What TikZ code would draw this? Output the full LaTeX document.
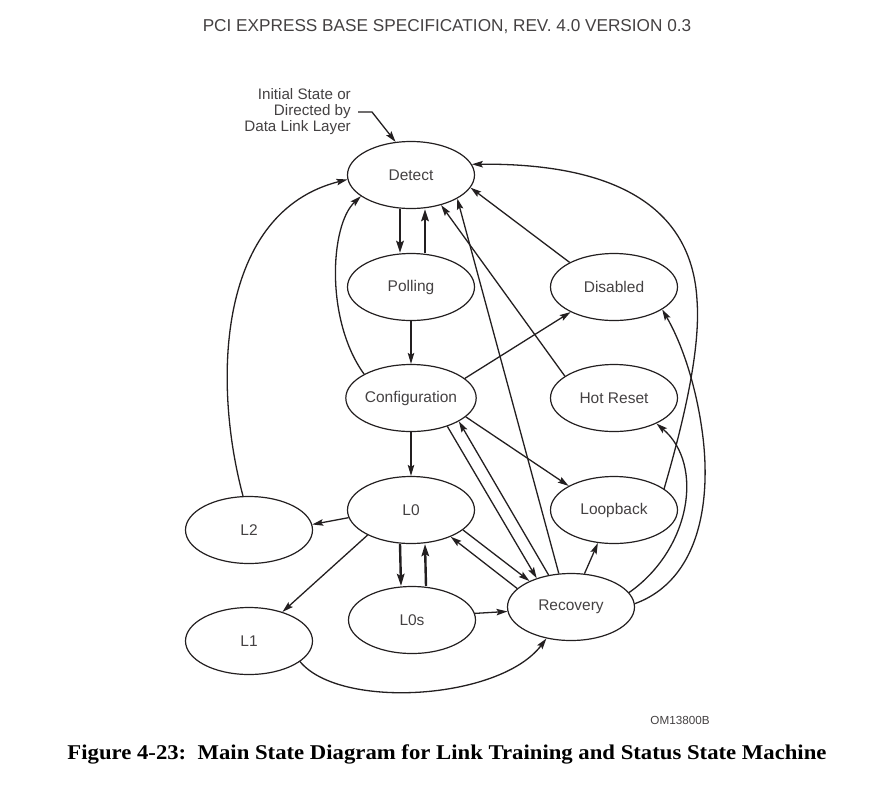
\documentclass[tikz,border=0pt]{standalone}
\usepackage{fontspec}
\setmainfont{Liberation Sans}
\newfontfamily\capfont{Liberation Serif}
\usetikzlibrary{shapes.geometric,arrows.meta}
\definecolor{ink}{HTML}{231F20}
\begin{document}
\begin{tikzpicture}[x=1pt,y=-1pt,
  state/.style={ellipse,draw=ink,line width=1.2pt,minimum width=127pt,minimum height=67pt,inner sep=0pt,
    font=\fontsize{15.5}{17}\selectfont,text=ink!85},
  arr/.style={draw=ink,line width=1.3pt,-{Stealth[length=11pt,width=6.5pt,inset=2pt]}},
  tarr/.style={draw=ink,line width=2.4pt,-{Stealth[length=12pt,width=7.5pt,inset=2pt]}},
  plain/.style={draw=ink,line width=1.3pt}]
\path[use as bounding box] (0,0) rectangle (873,788);

\node[font=\fontsize{17.2}{19}\selectfont,text=ink!85] (title) at (447,27) {PCI EXPRESS BASE SPECIFICATION, REV. 4.0 VERSION 0.3};

\node[state] (D) at (411,175) {Detect};
\node[state] (P) at (411,287) {Polling};
\node[state] (C) at (411,398) {Configuration};
\node[state] (Di) at (614,287) {Disabled};
\node[state] (H) at (614,398) {Hot Reset};
\node[state] (Lb) at (614,510) {Loopback};
\node[state] (L0) at (411,510) {L0};
\node[state] (L2) at (249,530) {L2};
\node[state] (L1) at (249,641) {L1};
\node[state] (L0s) at (412,620) {L0s};
\node[state] (R) at (571,607) {Recovery};

\node[anchor=east,align=right,font=\fontsize{15.2}{16}\selectfont,text=ink!85,inner sep=0pt] (init) at (351,112) {Initial State or\\Directed by\\Data Link Layer};
\coordinate (ia) at (358,112);
\coordinate (ib) at (372,112);
\draw[arr] (ia) -- (ib) -- (D.115);

% Detect <-> Polling
\draw[tarr] ([xshift=-11pt]D.south) -- ([xshift=-11pt]P.north);
\draw[tarr] ([xshift=14pt]P.north) -- ([xshift=14pt]D.south);
\draw[arr] (P.south) -- (C.north);
\draw[arr] (C.153) .. controls (325,320) and (330,225) .. (D.203);
\draw[arr] (L2.100) .. controls (212,380) and (218,212) .. (D.184);
\draw[arr] (C.20) -- (Di.210);
\draw[arr] (Di.151) -- (D.-12);
\draw[arr] (H.156) -- (D.-45);
\draw[arr] (R.110) -- (D.-27);
\draw[arr] (Lb.23) .. controls (690,400) and (700,340) .. (697,300) .. controls (692,210) and (620,163) .. (D.10);
\draw[arr] (R.3) .. controls (700,580) and (712,500) .. (702,430) .. controls (695,380) and (680,340) .. (Di.-25);
\draw[arr] (R.14) .. controls (690,550) and (705,465) .. (H.-31);
\draw[arr] (C.-19) -- (Lb.152);
\draw[arr] (C.-38) -- (R.140);
\draw[arr] (R.125) -- (C.-26);
\draw[arr] (L0.-21) -- (R.148);
\draw[arr] (R.161) -- (L0.-34);
\draw[arr] (C.south) -- (L0.north);
\draw[arr] (L0.187) -- (L2.5);
\draw[arr] (L0.210) -- (L1.41);
\draw[tarr] ([xshift=-11pt]L0.south) -- ([xshift=-11pt]L0s.north);
\draw[tarr] ([xshift=14pt]L0s.north) -- ([xshift=14pt]L0.south);
\draw[arr] (L0s.6) -- (R.184);
\draw[arr] (L1.-22) .. controls (340,710) and (500,700) .. (R.232);
\draw[arr] (R.68) -- (Lb.244);

\node[font=\fontsize{11.7}{13}\selectfont,text=ink!85] (om) at (680,720) {OM13800B};
\node[font=\capfont\bfseries\fontsize{21}{24}\selectfont,text=black,xscale=1.082] (cap) at (447,754) {Figure 4-23:\ \ Main State Diagram for Link Training and Status State Machine};
\end{tikzpicture}
\end{document}
